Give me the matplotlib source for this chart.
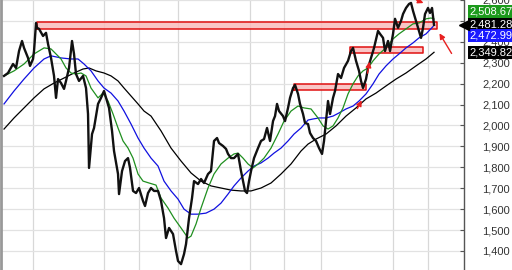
import matplotlib
matplotlib.use("Agg")
import matplotlib.pyplot as plt
from matplotlib.ticker import FuncFormatter
import matplotlib.transforms as mtransforms

plt.rcParams['font.family'] = ['Liberation Sans', 'DejaVu Sans']

# price (day index, close)
price_day = [3, 7, 12, 15, 18, 21, 23, 27, 29, 32, 33, 35, 36, 38, 42, 45, 47, 50, 53, 55,
             57, 60, 63, 65, 68, 71, 73, 75, 78, 82, 85, 87, 88, 91, 93, 97, 100, 103, 106, 108,
             111, 113, 117, 118, 121, 124, 127, 129, 132, 135, 138, 142, 144, 147, 150, 153, 157, 160, 163, 165,
             168, 172, 175, 177, 180, 183, 185, 188, 191, 193, 197, 200, 203, 207, 210, 213, 216, 218, 222, 225,
             227, 230, 233, 237, 240, 242, 244, 246, 248, 250, 253, 257, 260, 263, 266, 269, 272, 274, 276, 278,
             282, 284, 287, 289, 292, 294, 297, 299, 302, 304, 307, 309, 312, 315, 318, 321, 323, 325, 327, 329,
             332, 334, 337, 340, 343, 347, 350, 352, 355, 358, 360, 362, 365, 367, 370, 373, 377, 379, 382, 384,
             387, 389, 392, 394, 397, 400, 402, 405, 408, 410, 412, 415, 418, 420, 422, 424, 427, 429, 431, 433]
price_close = [2237, 2251, 2294, 2275, 2356, 2404, 2371, 2323, 2285, 2318, 2356, 2490, 2467, 2462, 2428, 2443, 2390, 2323, 2237, 2132,
               2222, 2203, 2175, 2213, 2275, 2404, 2342, 2246, 2213, 2237, 2179, 2055, 1797, 1959, 1988, 2103, 2132, 2165, 2117, 2084,
               1974, 1878, 1768, 1672, 1782, 1830, 1844, 1797, 1687, 1677, 1701, 1639, 1615, 1677, 1701, 1687, 1687, 1639, 1557, 1462,
               1510, 1481, 1400, 1352, 1337, 1385, 1433, 1557, 1653, 1734, 1720, 1744, 1725, 1768, 1782, 1926, 1940, 1916, 1902, 1888,
               1864, 1844, 1844, 1864, 1782, 1734, 1687, 1677, 1734, 1782, 1844, 1892, 1926, 1935, 1988, 1926, 2021, 2045, 2103, 2069,
               2045, 2021, 2084, 2132, 2179, 2194, 2151, 2103, 2055, 2012, 2007, 1964, 1940, 1926, 1892, 1864, 1926, 2021, 2117, 2055,
               2132, 2165, 2246, 2227, 2275, 2309, 2356, 2371, 2309, 2261, 2213, 2179, 2222, 2275, 2323, 2371, 2452, 2438, 2419, 2356,
               2404, 2356, 2438, 2510, 2467, 2500, 2533, 2562, 2581, 2586, 2548, 2500, 2452, 2419, 2467, 2533, 2562, 2538, 2562, 2481]

# short moving average (green)
ma_short_day = [3, 13, 23, 33, 43, 50, 55, 60, 65, 70, 75, 80, 85, 90, 97, 102, 107, 112, 117, 122,
                127, 132, 137, 142, 148, 155, 160, 167, 173, 180, 187, 190, 195, 200, 207, 213, 220, 227, 233, 237,
                242, 247, 252, 257, 263, 270, 277, 283, 290, 297, 303, 310, 317, 322, 327, 332, 337, 342, 347, 352,
                357, 362, 367, 372, 378, 385, 392, 398, 405, 412, 418, 425, 430, 433]
ma_short = [2237, 2261, 2294, 2342, 2371, 2366, 2342, 2318, 2275, 2251, 2246, 2251, 2237, 2179, 2132, 2155, 2117, 2055, 1988, 1926,
            1892, 1844, 1768, 1734, 1725, 1715, 1653, 1605, 1557, 1510, 1462, 1471, 1529, 1605, 1701, 1768, 1816, 1844, 1864, 1868,
            1844, 1816, 1797, 1816, 1844, 1892, 1959, 2021, 2069, 2093, 2084, 2079, 2036, 1998, 1983, 1998, 2036, 2084, 2151, 2199,
            2237, 2261, 2275, 2309, 2342, 2371, 2414, 2438, 2462, 2486, 2490, 2510, 2514, 2509]

# medium moving average (blue)
ma_mid_day = [3, 13, 23, 33, 43, 50, 60, 70, 77, 83, 90, 97, 103, 110, 117, 123, 130, 137, 143, 150,
              157, 163, 170, 177, 183, 190, 197, 205, 213, 220, 227, 233, 240, 247, 253, 260, 267, 273, 280, 287,
              293, 300, 307, 312, 318, 325, 332, 338, 345, 352, 358, 365, 372, 378, 385, 392, 398, 405, 412, 418,
              425, 432]
ma_mid = [2103, 2165, 2222, 2275, 2318, 2333, 2323, 2318, 2318, 2294, 2261, 2213, 2179, 2155, 2117, 2069, 2007, 1940, 1892, 1844,
          1806, 1734, 1687, 1648, 1600, 1576, 1576, 1581, 1600, 1629, 1672, 1711, 1749, 1782, 1806, 1821, 1844, 1868, 1892, 1926,
          1959, 1988, 2026, 2031, 2036, 2036, 2045, 2060, 2079, 2093, 2117, 2151, 2199, 2246, 2285, 2318, 2342, 2371, 2395, 2419,
          2438, 2473]

# long moving average (black)
ma_long_day = [3, 13, 23, 33, 43, 53, 63, 73, 82, 88, 95, 103, 110, 117, 123, 130, 137, 143, 150, 160,
               170, 180, 190, 200, 210, 220, 230, 240, 250, 260, 270, 280, 290, 300, 307, 315, 325, 335, 345, 355,
               365, 375, 385, 395, 405, 415, 425, 433]
ma_long = [1983, 2036, 2084, 2132, 2175, 2203, 2227, 2251, 2270, 2275, 2261, 2251, 2237, 2213, 2179, 2141, 2103, 2069, 2045, 1974,
           1892, 1830, 1773, 1734, 1711, 1701, 1691, 1687, 1687, 1701, 1725, 1768, 1816, 1878, 1911, 1935, 1959, 1998, 2045, 2084,
           2127, 2155, 2189, 2222, 2251, 2285, 2318, 2350]

# resistance / support zones: (start day, end day, low, high)
zone_start = [36, 293, 349]
zone_end = [436, 365, 422]
zone_low = [2462, 2168, 2347]
zone_high = [2495, 2200, 2376]

# vertical grid positions (period boundaries)
vgrid_days = [32, 103, 138, 177, 249, 283, 320, 392, 427]

# last-value labels
last_short = 2508.67
last_price = 2481.28
last_mid = 2472.99
last_long = 2349.82

fig = plt.figure(figsize=(5.12, 2.7), dpi=100)
ax = fig.add_axes([0.002, 0, 463 / 512, 1])
ax.set_xlim(0, 463)
ax.set_ylim(1309, 2596)

for d in vgrid_days:
    ax.axvline(d, color='#d8d8d8', lw=0.9, zorder=0)
ax.set_yticks(range(1400, 2700, 100))
ax.yaxis.grid(True, color='#e2e2e2', lw=0.9, zorder=0)
ax.set_axisbelow(True)

for s, e, lo, hi in zip(zone_start, zone_end, zone_low, zone_high):
    ax.fill_between([s, e], lo, hi, facecolor='#f9bcbc', edgecolor='none', alpha=0.85, zorder=1)
    ax.plot([s, e, e, s, s], [lo, lo, hi, hi, lo], color='#e01010', lw=1.1, zorder=1.5)

ax.plot(ma_long_day, ma_long, color='black', lw=0.9, zorder=2)
ax.plot(ma_mid_day, ma_mid, color='#1010e0', lw=0.9, zorder=2.1)
ax.plot(ma_short_day, ma_short, color='#1f8f1f', lw=0.9, zorder=2.2)
ax.plot(price_day, price_close, color='#111111', lw=1.7, zorder=3)

# red arrows
arrow_kw = dict(arrowstyle='-|>', color='#e82020', lw=1.0, mutation_scale=8)
ax.annotate('', xy=(362, 2132), xytext=(355, 2069), arrowprops=arrow_kw, zorder=4)
ax.annotate('', xy=(369, 2318), xytext=(366, 2237), arrowprops=arrow_kw, zorder=4)
ax.annotate('', xy=(425, 2580), xytext=(413, 2605), arrowprops=arrow_kw, zorder=4, annotation_clip=False)
ax.annotate('', xy=(437, 2452), xytext=(452, 2333), arrowprops=arrow_kw, zorder=4)

# axis styling
for side in ['top', 'bottom']:
    ax.spines[side].set_visible(False)
ax.spines['left'].set_color('#999999')
ax.spines['left'].set_linewidth(2)
ax.spines['right'].set_color('#555555')
ax.spines['right'].set_linewidth(1)
ax.set_xticks([])
ax.yaxis.tick_right()
ax.yaxis.set_major_formatter(FuncFormatter(lambda v, p: f"{v:,.0f}"))
ax.tick_params(axis='y', direction='in', length=3, pad=13, labelsize=8,
               labelcolor='#333333', color='#555555')

# value labels on the right axis
trans = mtransforms.blended_transform_factory(ax.transAxes, ax.transData)
labels = [(last_short, 5.5, '#1c9a1c'), (last_price, 0, 'black'),
          (last_mid, -6.5, '#1a1aff'), (last_long, 0, 'black')]
for val, dy, col in labels:
    ax.annotate(f"{val:,.2f}", xy=(1, val), xycoords=trans, xytext=(4, dy),
                textcoords='offset points', ha='left', va='center', fontsize=8,
                color='white', annotation_clip=False, zorder=10,
                bbox=dict(boxstyle='square,pad=0.12', fc=col, ec='none'))
ax.plot([1.0], [last_price], marker='<', markersize=7, color='black', transform=trans,
        clip_on=False, zorder=10)

fig.savefig('out.png', dpi=100)
